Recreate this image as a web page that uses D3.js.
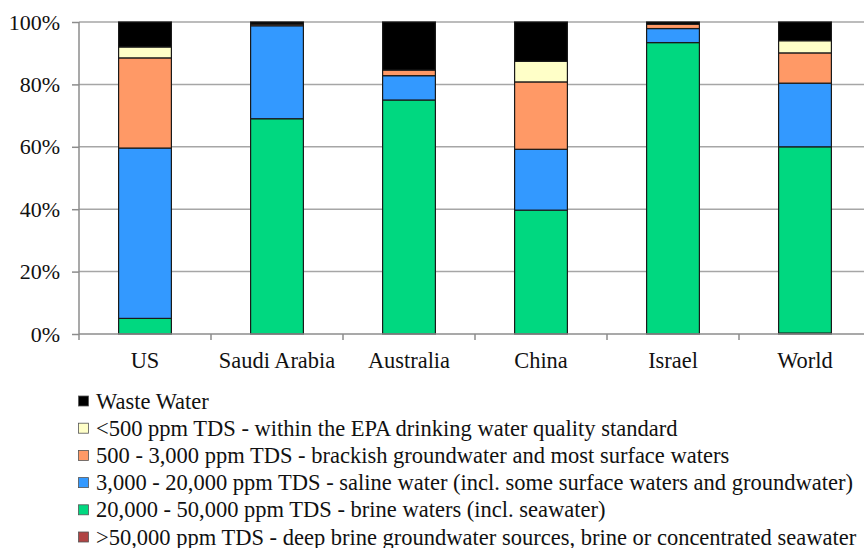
<!DOCTYPE html>
<html>
<head>
<meta charset="utf-8">
<script src="https://cdn.jsdelivr.net/npm/d3@7"></script>
<style>
  body { margin: 0; background: #fff; }
  svg { display: block; font-family: "Liberation Serif", "Times New Roman", serif; }
</style>
</head>
<body>
<svg id="chart" width="864" height="548"></svg>
<script>
// values, in percent of each country's capacity
var categories = ["US", "Saudi Arabia", "Australia", "China", "Israel", "World"];
var deepBrine = [0, 0, 0, 0, 0, 0.3];
var brine     = [5.0, 69.0, 75.0, 39.7, 93.4, 59.7];
var saline    = [54.6, 29.8, 7.8, 19.5, 4.5, 20.4];
var brackish  = [28.9, 0.5, 1.8, 21.6, 1.4, 9.7];
var fresh     = [3.5, 0, 0, 6.6, 0, 3.9];
var waste     = [8.0, 0.7, 15.4, 12.6, 0.7, 6.0];
var yTicks = [0, 20, 40, 60, 80, 100];

var seriesKeys = ["deep", "brine", "saline", "brackish", "fresh", "waste"];
var seriesColors = {
  deep: "#b04444", brine: "#00d880", saline: "#3399ff",
  brackish: "#ff9966", fresh: "#ffffc8", waste: "#000000"
};
// legend goes top-down, opposite of stacking order
var legendKeys = ["waste", "fresh", "brackish", "saline", "brine", "deep"];
var legendLabels = [
  "Waste Water",
  "<500 ppm TDS - within the EPA drinking water quality standard",
  "500 - 3,000 ppm TDS - brackish groundwater and most surface waters",
  "3,000 - 20,000 ppm TDS - saline water (incl. some surface waters and groundwater)",
  "20,000 - 50,000 ppm TDS - brine waters (incl. seawater)",
  ">50,000 ppm TDS - deep brine groundwater sources, brine or concentrated seawater"
];

var rows = categories.map(function(c, i) {
  return {cat: c, deep: deepBrine[i], brine: brine[i], saline: saline[i],
          brackish: brackish[i], fresh: fresh[i], waste: waste[i]};
});

var plotLeft = 79, plotTop = 22, plotBottom = 334, plotRight = 871;

var svg = d3.select("#chart");

var x = d3.scaleBand().domain(categories).range([plotLeft, plotRight]).padding(0);
var y = d3.scaleLinear().domain([0, 100]).range([plotBottom, plotTop]);
var barW = x.bandwidth() * 0.4;

// gridlines
svg.append("g")
  .selectAll("line")
  .data(yTicks.filter(function(t) { return t > 0; }))
  .join("line")
  .attr("x1", plotLeft).attr("x2", plotRight)
  .attr("y1", function(d) { return y(d); })
  .attr("y2", function(d) { return y(d); })
  .attr("stroke", "#a6a6a6").attr("stroke-width", 1.5);

// bars
var stack = d3.stack().keys(seriesKeys)(rows);
svg.append("g")
  .selectAll("g")
  .data(stack)
  .join("g")
  .attr("fill", function(d) { return seriesColors[d.key]; })
  .selectAll("rect")
  .data(function(d) { return d.filter(function(p) { return p[1] - p[0] > 0; }); })
  .join("rect")
  .attr("x", function(d) { return x(d.data.cat) + (x.bandwidth() - barW) / 2; })
  .attr("width", barW)
  .attr("y", function(d) { return y(d[1]); })
  .attr("height", function(d) { return y(d[0]) - y(d[1]); })
  .attr("stroke", "#1a1a1a").attr("stroke-width", 1.2);

// y axis
var yAxis = svg.append("g")
  .attr("transform", "translate(" + plotLeft + ",0)")
  .call(d3.axisLeft(y).tickValues(yTicks).tickSize(7).tickPadding(12)
    .tickFormat(function(d) { return d + "%"; }));
yAxis.selectAll("path, line").attr("stroke", "#8c8c8c").attr("stroke-width", 1.5);
yAxis.select(".domain").attr("d", "M0," + plotBottom + "V" + plotTop);
yAxis.selectAll("text").attr("font-size", 22).attr("fill", "#111")
  .attr("font-family", "Liberation Serif");

// x axis, ticks at band boundaries
var xAxis = svg.append("g")
  .attr("transform", "translate(0," + plotBottom + ")");
xAxis.append("line")
  .attr("x1", plotLeft).attr("x2", plotRight)
  .attr("stroke", "#8c8c8c").attr("stroke-width", 1.5);
xAxis.selectAll(".tick")
  .data(categories)
  .join("line")
  .attr("x1", function(d) { return x(d); })
  .attr("x2", function(d) { return x(d); })
  .attr("y1", 0).attr("y2", 6)
  .attr("stroke", "#8c8c8c").attr("stroke-width", 1.5);
xAxis.selectAll("text")
  .data(categories)
  .join("text")
  .attr("x", function(d) { return x(d) + x.bandwidth() / 2; })
  .attr("y", 34)
  .attr("text-anchor", "middle")
  .attr("font-size", 22.4).attr("fill", "#111")
  .text(function(d) { return d; });

// legend
var legend = svg.append("g").attr("transform", "translate(78,401)");
var item = legend.selectAll("g")
  .data(legendKeys)
  .join("g")
  .attr("transform", function(d, i) { return "translate(0," + (i * 27.2) + ")"; });
item.append("rect")
  .attr("x", 0.5).attr("y", -5)
  .attr("width", 10).attr("height", 10)
  .attr("fill", function(d) { return seriesColors[d]; })
  .attr("stroke", "#555").attr("stroke-width", 0.8);
item.append("text")
  .attr("x", 18).attr("y", 7.5)
  .attr("font-size", 22.5).attr("fill", "#111")
  .text(function(d, i) { return legendLabels[i]; });
</script>
</body>
</html>
